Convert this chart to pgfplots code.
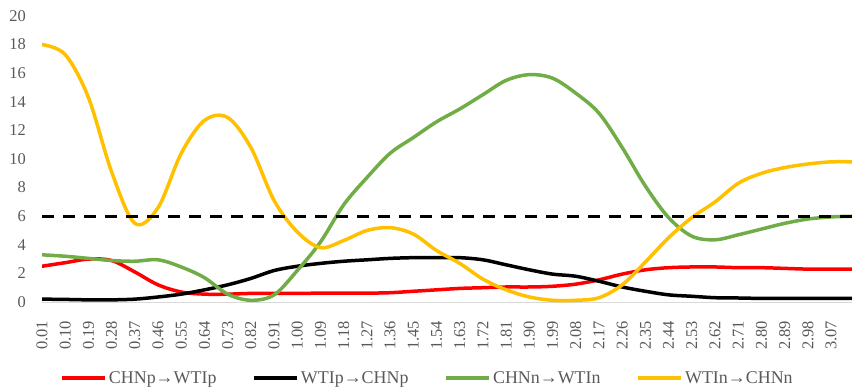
\documentclass[border=0pt]{standalone}
\usepackage{pgfplots}
\usepackage{pgfplotstable}
\pgfplotsset{compat=1.18}
\usepackage{fontspec}
\setmainfont{Liberation Serif}
\definecolor{cred}{HTML}{FF0000}
\definecolor{cgreen}{HTML}{70AD47}
\definecolor{cyellow}{HTML}{FFC000}
\definecolor{ctext}{HTML}{595959}
\definecolor{caxis}{HTML}{D9D9D9}

\pgfplotstableread{
i  r     k     g     y
0  2.50  0.20  3.30  18.0
1  2.75  0.18  3.20  17.3
2  3.00  0.15  3.05  14.3
3  2.90  0.15  2.90  9.1
4  2.10  0.20  2.85  5.5
5  1.20  0.35  2.95  6.6
6  0.70  0.55  2.45  10.4
7  0.55  0.85  1.70  12.7
8  0.55  1.20  0.55  12.9
9  0.60  1.65  0.12  10.8
10 0.60  2.20  0.50  7.1
11 0.60  2.50  2.20  4.9
12 0.62  2.70  4.20  3.8
13 0.62  2.85  6.80  4.3
14 0.62  2.95  8.70  5.0
15 0.65  3.05  10.4  5.2
16 0.75  3.10  11.5  4.75
17 0.85  3.10  12.6  3.6
18 0.95  3.10  13.5  2.7
19 1.00  2.95  14.5  1.6
20 1.05  2.60  15.5  0.85
21 1.05  2.25  15.9  0.35
22 1.10  1.95  15.65 0.12
23 1.25  1.80  14.6  0.12
24 1.55  1.45  13.2  0.3
25 1.95  1.05  10.8  1.2
26 2.25  0.75  8.1   2.8
27 2.40  0.50  5.9   4.5
28 2.45  0.40  4.6   5.9
29 2.45  0.30  4.35  7.0
30 2.40  0.28  4.7   8.3
31 2.40  0.25  5.1   9.0
32 2.35  0.25  5.5   9.4
33 2.30  0.25  5.8   9.65
34 2.30  0.25  5.95  9.8
35 2.30  0.25  6.0   9.8
}\datatable

\begin{document}
\begin{tikzpicture}
\path[use as bounding box] (-42bp,-88bp) rectangle (810bp,302bp);
\begin{axis}[
  at={(0,0)}, anchor=south west,
  scale only axis,
  width=810bp, height=286bp,
  xmin=0, xmax=34.9,
  ymin=0, ymax=20,
  ytick={0,2,...,20},
  xtick={0,...,34},
  xticklabels={0.01,0.10,0.19,0.28,0.37,0.46,0.55,0.64,0.73,0.82,0.91,1.00,1.09,1.18,1.27,1.36,1.45,1.54,1.63,1.72,1.81,1.90,1.99,2.08,2.17,2.26,2.35,2.44,2.53,2.62,2.71,2.80,2.89,2.98,3.07},
  axis x line*=bottom,
  axis y line*=left,
  x axis line style={draw=caxis, line width=1bp, -},
  y axis line style={draw=none},
  major tick length=0pt,
  /pgf/number format/assume math mode=true,
  ticklabel style={font=\fontsize{16.5}{17}\selectfont, text=ctext},
  yticklabel style={inner xsep=16bp},
  xticklabel style={rotate=90, anchor=east, inner xsep=19bp, inner ysep=0bp},
  legend columns=4,
  legend style={draw=none, fill=none, at={(0.476,-0.266)}, anchor=center,
    font=\fontsize{18}{18}\selectfont, text=ctext,
    /tikz/every even column/.append style={column sep=34bp}},
  legend image code/.code={\draw[#1, line width=3.5bp] (0bp,0bp) -- (43bp,0bp);},
  every axis plot/.append style={line width=3.5bp, smooth, tension=0.55, no marks},
]
\addplot[cred] table[x=i, y=r] {\datatable};
\addlegendentry{CHNp→WTIp}
\addplot[black] table[x=i, y=k] {\datatable};
\addlegendentry{WTIp→CHNp}
\addplot[cgreen] table[x=i, y=g] {\datatable};
\addlegendentry{CHNn→WTIn}
\addplot[cyellow] table[x=i, y=y] {\datatable};
\addlegendentry{WTIn→CHNn}
\addplot[black, line width=3bp, dash pattern=on 12bp off 9bp, forget plot, sharp plot] coordinates {(0,6) (35,6)};
\end{axis}
\end{tikzpicture}
\end{document}
